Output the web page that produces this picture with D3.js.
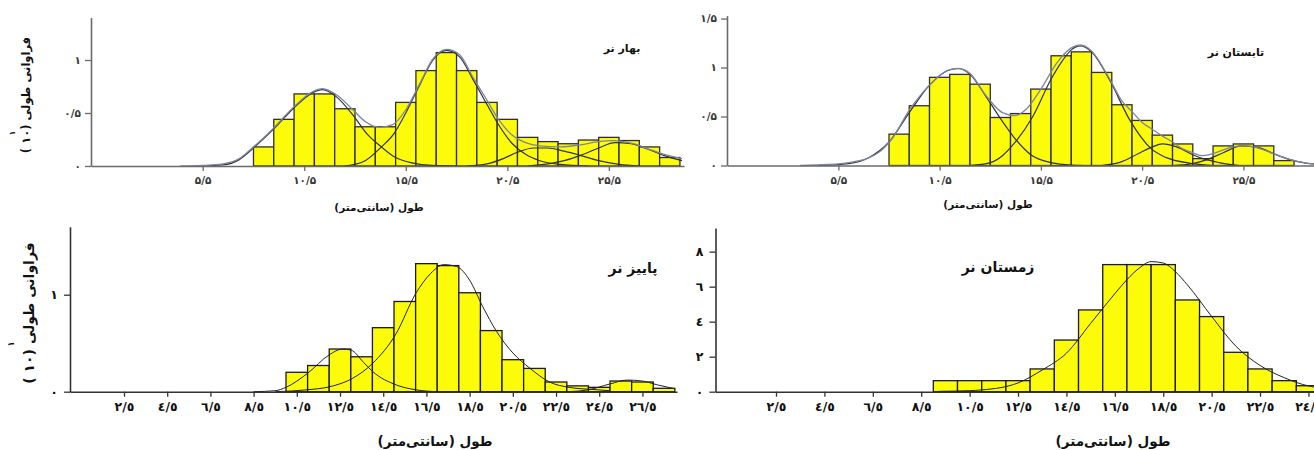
<!DOCTYPE html>
<html>
<head>
<meta charset="utf-8">
<script src="https://cdn.jsdelivr.net/npm/d3@7"></script>
<style>
  body { margin: 0; background: #fff; }
  svg { display: block; font-family: "DejaVu Sans", sans-serif; }
</style>
</head>
<body>
<svg id="chart" width="1314" height="450"></svg>
<script>
// ---------- data (length classes are 1 cm wide, first class lower edge given) ----------
// spring (top left)
const springStart = 8;
const springFreq = [0.18, 0.44, 0.68, 0.68, 0.54, 0.37, 0.37, 0.60, 0.90, 1.07, 0.90,
  0.60, 0.44, 0.27, 0.23, 0.21, 0.245, 0.27, 0.24, 0.18, 0.08];
const springTotal = [[4.4, 0], [5.5, 0.005], [6.5, 0.02], [7.3, 0.07], [8, 0.18], [9, 0.36],
  [10, 0.56], [10.9, 0.70], [11.4, 0.73], [12.1, 0.67], [12.9, 0.53], [13.5, 0.42],
  [14.2, 0.365], [14.85, 0.39], [15.5, 0.53], [16.2, 0.78], [16.8, 1.0], [17.5, 1.10],
  [18.15, 1.05], [18.8, 0.84], [19.5, 0.62], [20.1, 0.43], [20.75, 0.29], [21.4, 0.22],
  [22.1, 0.19], [23.1, 0.18], [24.1, 0.20], [25, 0.23], [25.7, 0.24], [26.7, 0.21],
  [27.6, 0.15], [28.6, 0.09], [29.1, 0.07]];
const springComp1 = [[5.3, 0], [6.5, 0.01], [7.3, 0.06], [8, 0.17], [9, 0.35], [10, 0.55],
  [10.9, 0.69], [11.4, 0.72], [12.1, 0.65], [12.9, 0.48], [13.6, 0.30], [14.3, 0.18],
  [15, 0.08], [15.8, 0.03], [16.8, 0.005], [18, 0]];
const springComp2 = [[12.5, 0], [13.5, 0.05], [14.3, 0.18], [14.9, 0.30], [15.5, 0.50],
  [16.2, 0.77], [16.8, 0.99], [17.5, 1.09], [18.15, 1.03], [18.8, 0.82], [19.5, 0.58],
  [20.1, 0.38], [20.75, 0.21], [21.4, 0.11], [22.1, 0.05], [23.1, 0.015], [24.5, 0]];
const springComp3 = [[18.5, 0], [19.5, 0.02], [20.3, 0.07], [21, 0.13], [21.8, 0.17],
  [22.5, 0.17], [23.3, 0.14], [24.1, 0.10], [25, 0.05], [26, 0.015], [27, 0]];
const springComp4 = [[21.5, 0], [22.5, 0.02], [23.3, 0.05], [24.1, 0.10], [25, 0.17],
  [25.8, 0.22], [26.6, 0.21], [27.4, 0.16], [28.2, 0.10], [29.1, 0.05]];
const springXTicks = [5.5, 10.5, 15.5, 20.5, 25.5];
const springYTicks = [0, 0.5, 1];

// summer (top right)
const summerStart = 8;
const summerFreq = [0.32, 0.61, 0.90, 0.93, 0.83, 0.49, 0.53, 0.78, 1.12, 1.16, 0.95,
  0.62, 0.46, 0.31, 0.22, 0.07, 0.20, 0.22, 0.20, 0.05];
const summerTotal = [[3.6, 0], [5, 0.01], [6, 0.03], [6.9, 0.07], [7.6, 0.15], [8.1, 0.26],
  [9.05, 0.58], [10, 0.82], [10.9, 0.97], [11.4, 0.99], [12, 0.94], [12.8, 0.71],
  [13.6, 0.54], [14.2, 0.51], [14.8, 0.58], [15.5, 0.78], [16.3, 1.05], [17, 1.20],
  [17.45, 1.23], [18, 1.17], [18.9, 0.88], [19.5, 0.66], [20, 0.55], [20.5, 0.44],
  [21, 0.37], [21.5, 0.30], [22, 0.24], [22.5, 0.17], [23, 0.13], [23.5, 0.10], [24, 0.12],
  [24.5, 0.16], [25, 0.19], [25.5, 0.20], [26, 0.19], [26.5, 0.16], [27, 0.12],
  [27.5, 0.08], [28, 0.05], [28.6, 0.025], [29.4, 0.01]];
const summerComp1 = [[4.5, 0], [6, 0.02], [7, 0.08], [8, 0.24], [9, 0.54], [10, 0.82],
  [10.9, 0.97], [11.4, 0.99], [12, 0.93], [12.8, 0.70], [13.6, 0.45], [14.2, 0.28],
  [15, 0.11], [16, 0.03], [17, 0.005], [18, 0]];
const summerComp2 = [[12, 0], [13, 0.03], [13.6, 0.10], [14.2, 0.23], [15.1, 0.50],
  [16, 0.88], [16.5, 1.05], [17, 1.18], [17.45, 1.22], [18, 1.16], [18.9, 0.87],
  [19.9, 0.46], [20.9, 0.18], [21.7, 0.08], [23, 0.02], [24, 0]];
const summerComp3 = [[18.5, 0], [19.5, 0.04], [20.3, 0.12], [21, 0.19], [21.5, 0.22],
  [22.2, 0.19], [23, 0.11], [23.5, 0.07], [24.3, 0.03], [25.3, 0]];
const summerComp4 = [[22, 0], [23, 0.02], [23.7, 0.06], [24.5, 0.13], [25.4, 0.20],
  [26.3, 0.18], [27, 0.12], [27.8, 0.06], [28.6, 0.025], [29.4, 0.01]];
const summerXTicks = [5.5, 10.5, 15.5, 20.5, 25.5];
const summerYTicks = [0, 0.5, 1, 1.5];

// autumn (bottom left)
const autumnStart = 10;
const autumnFreq = [0.20, 0.27, 0.44, 0.36, 0.66, 0.93, 1.32, 1.30, 1.02, 0.63, 0.33,
  0.24, 0.10, 0.06, 0.045, 0.11, 0.10, 0.035];
const autumnComp1 = [[8.5, 0], [9.5, 0.01], [10, 0.045], [11, 0.19], [12, 0.38],
  [12.6, 0.44], [13, 0.43], [13.6, 0.30], [14, 0.21], [15.1, 0.07], [16, 0.02], [17, 0]];
const autumnComp2 = [[9.5, 0], [11, 0.02], [12, 0.05], [13.1, 0.14], [14, 0.29],
  [15.1, 0.60], [16, 1.01], [16.7, 1.22], [17.3, 1.31], [17.9, 1.29], [18.5, 1.15],
  [19.1, 0.88], [19.75, 0.62], [20.5, 0.40], [21.3, 0.24], [22.2, 0.10], [23.1, 0.045],
  [24.4, 0.02], [25, 0.01]];
const autumnComp3 = [[23, 0], [24, 0.02], [25, 0.08], [25.8, 0.12], [26.5, 0.11],
  [27.2, 0.07], [28, 0.03]];
const autumnXTicks = [2.5, 4.5, 6.5, 8.5, 10.5, 12.5, 14.5, 16.5, 18.5, 20.5, 22.5, 24.5, 26.5];
const autumnYTicks = [0, 1];

// winter (bottom right)
const winterStart = 9;
const winterFreq = [0.63, 0.63, 0.63, 0.63, 1.30, 2.95, 4.67, 7.26, 7.26, 7.26, 5.24,
  4.29, 2.25, 1.30, 0.63, 0.34];
const winterCurve = [[9.2, 0.02], [10.5, 0.06], [11, 0.1], [12.5, 0.5], [13.5, 1.24],
  [14.5, 2.2], [15.5, 3.9], [16.5, 5.6], [17, 6.4], [17.5, 7.05], [18, 7.43], [18.5, 7.35],
  [19, 6.86], [19.5, 6.1], [20.5, 4.3], [21.5, 2.6], [22.5, 1.5], [23.5, 0.8],
  [24.5, 0.33], [24.8, 0.25]];
const winterXTicks = [2.5, 4.5, 6.5, 8.5, 10.5, 12.5, 14.5, 16.5, 18.5, 20.5, 22.5, 24.5];
const winterYTicks = [0, 2, 4, 6, 8];

// ---------- helpers ----------
const faDigits = "۰۱۲۳۴۵۶۷۸۹";
const arDigits = "٠١٢٣٤٥٦٧٨٩";
const numFmt = (digits) => (d) =>
  String(d).replace(".", "/").replace(/[0-9]/g, (c) => digits[+c]);

const svg = d3.select("#chart");
const barFill = "#fcfc0a";

// panel layout (pixel frames only)
const panels = [
  { start: springStart, freq: springFreq, comps: [springComp1, springComp2, springComp3, springComp4],
    total: springTotal, xTicks: springXTicks, yTicks: springYTicks,
    xDomain: [0, 29.2], xRange: [91, 684], yDomain: [0, 1.4], yRange: [166, 17.6],
    fmt: numFmt(faDigits), bold: false },
  { start: summerStart, freq: summerFreq, comps: [summerComp1, summerComp2, summerComp3, summerComp4],
    total: summerTotal, xTicks: summerXTicks, yTicks: summerYTicks,
    xDomain: [0, 29.4], xRange: [727, 1322.4], yDomain: [0, 1.53], yRange: [165.5, 15.6],
    fmt: numFmt(faDigits), bold: false },
  { start: autumnStart, freq: autumnFreq, comps: [autumnComp1, autumnComp2, autumnComp3],
    total: null, xTicks: autumnXTicks, yTicks: autumnYTicks,
    xDomain: [0, 28.1], xRange: [70, 677], yDomain: [0, 1.7], yRange: [391.7, 226.8],
    fmt: numFmt(arDigits), bold: true },
  { start: winterStart, freq: winterFreq, comps: [winterCurve],
    total: null, xTicks: winterXTicks, yTicks: winterYTicks,
    xDomain: [0, 24.8], xRange: [715.5, 1315.7], yDomain: [0, 9.35], yRange: [391.7, 228],
    fmt: numFmt(arDigits), bold: true }
];

function drawPanel(p) {
  const x = d3.scaleLinear().domain(p.xDomain).range(p.xRange);
  const y = d3.scaleLinear().domain(p.yDomain).range(p.yRange);
  const g = svg.append("g");
  const ink = p.bold ? "#1a1a1a" : "#2e2e2e";

  g.selectAll("rect")
    .data(p.freq)
    .join("rect")
    .attr("x", (d, i) => x(p.start + i))
    .attr("width", (d, i) => x(p.start + i + 1) - x(p.start + i))
    .attr("y", (d) => y(d))
    .attr("height", (d) => y(0) - y(d))
    .attr("fill", barFill)
    .attr("stroke", ink)
    .attr("stroke-width", 1.3);

  const line = d3.line()
    .x((d) => x(d[0]))
    .y((d) => y(d[1]))
    .curve(d3.curveMonotoneX);

  p.comps.forEach((c) => {
    g.append("path")
      .attr("d", line(c))
      .attr("fill", "none")
      .attr("stroke", p.bold ? "#222" : "#333")
      .attr("stroke-width", p.bold ? 1 : 1.2);
  });
  if (p.total) {
    g.append("path")
      .attr("d", line(p.total))
      .attr("fill", "none")
      .attr("stroke", "#7c84a4")
      .attr("stroke-width", 1.3);
  }

  const axisColor = p.bold ? "#333" : "#6a6a6a";
  const xAxis = g.append("g")
    .attr("transform", `translate(0,${y(0)})`)
    .call(d3.axisBottom(x).tickValues(p.xTicks).tickFormat(p.fmt)
      .tickSize(5).tickSizeOuter(0).tickPadding(p.bold ? 5 : 6));
  const yAxis = g.append("g")
    .attr("transform", `translate(${x(0)},0)`)
    .call(d3.axisLeft(y).tickValues(p.yTicks).tickFormat(p.fmt)
      .tickSize(6).tickSizeOuter(0).tickPadding(p.bold ? 6 : 4));

  [xAxis, yAxis].forEach((a) => {
    a.select(".domain").attr("stroke", axisColor).attr("stroke-width", 1.6);
    a.selectAll(".tick line").attr("stroke", axisColor).attr("stroke-width", 1.3);
    a.selectAll(".tick text")
      .attr("fill", p.bold ? "#111" : "#3a3a3a")
      .attr("font-family", "DejaVu Sans, sans-serif")
      .attr("font-size", p.bold ? 12.5 : 10.5)
      .attr("font-weight", "bold");
  });
}

panels.forEach(drawPanel);

// ---------- titles and axis labels ----------
function label(txt, cx, cy, size, bold, rotate) {
  svg.append("text")
    .attr("transform", `translate(${cx},${cy})` + (rotate ? " rotate(-90)" : ""))
    .attr("text-anchor", "middle")
    .attr("dominant-baseline", "central")
    .attr("direction", "rtl")
    .style("direction", "rtl")
    .attr("font-size", size)
    .attr("font-weight", bold ? "bold" : "normal")
    .attr("fill", bold ? "#111" : "#333")
    .text(txt);
}

label("بهار نر", 622, 48, 11, true);
label("تابستان نر", 1236, 52, 11, true);
label("پاییز نر", 633, 268, 14, true);
label("زمستان نر", 998, 267, 14, true);

label("طول (سانتی‌متر)", 379, 207, 10.5, true);
label("طول (سانتی‌متر)", 988, 204, 10.5, true);
label("طول (سانتی‌متر)", 435, 441, 13.5, true);
label("طول (سانتی‌متر)", 1113, 441, 13.5, true);

label("فراوانی طولی (۱۰ )", 26, 95, 11.5, true, true);
label("۱", 12, 133, 8, true, true);
label("فراوانی طولی (۱۰ )", 29, 313, 14, true, true);
label("۱", 11, 344, 9, true, true);
</script>
</body>
</html>
